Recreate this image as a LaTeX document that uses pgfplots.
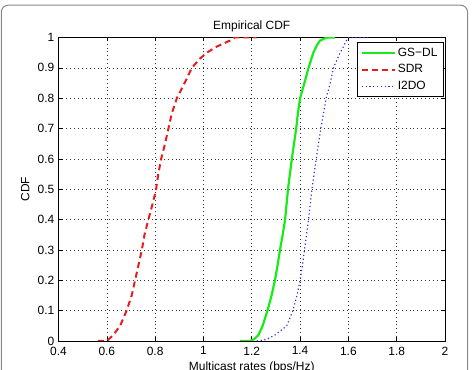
\documentclass[border=0pt]{standalone}
\usepackage{fontspec}
\setmainfont{Liberation Sans}
\usepackage{pgfplots}
\pgfplotsset{compat=1.18}

\definecolor{gsdl}{RGB}{25,235,25}
\definecolor{sdr}{RGB}{232,28,28}
\definecolor{itdo}{RGB}{50,50,215}
\definecolor{framegray}{RGB}{135,135,135}

\begin{document}
\fontsize{12}{14.4}\selectfont
\begin{tikzpicture}
\useasboundingbox (0,0) rectangle (472bp,370bp);
\draw[framegray, line width=1bp, rounded corners=7bp] (1.3bp,-20bp) rectangle (467.6bp,364.8bp);
\begin{axis}[
  at={(58.5bp,29bp)}, anchor=south west,
  scale only axis, width=386.5bp, height=303.5bp,
  xmin=0.4, xmax=2, ymin=0, ymax=1,
  xtick={0.4,0.6,0.8,1,1.2,1.4,1.6,1.8,2},
  ytick={0,0.1,0.2,0.3,0.4,0.5,0.6,0.7,0.8,0.9,1},
  /pgf/number format/assume math mode=true,
  tick label style={font=\fontsize{12}{14.4}\selectfont},
  xticklabel style={yshift=-1.5bp},
  label style={font=\fontsize{12}{14.4}\selectfont},
  xlabel style={yshift=1bp},
  title style={font=\fontsize{12}{14.4}\selectfont, yshift=-4.5bp},
  title={Empirical CDF},
  xlabel={Multicast rates (bps/Hz)},
  ylabel={CDF},
  grid=major,
  grid style={dash pattern=on 0.9bp off 3bp, black!80, line width=0.55bp},
  tick align=inside,
  major tick length=4bp,
  tick style={black, line width=0.6bp},
  axis line style={black, line width=0.8bp},
  legend style={at={(axis cs:1.993,0.985)}, anchor=north east,
    draw=black, line width=0.8bp, fill=white,
    font=\fontsize{12}{14.4}\selectfont,
    inner xsep=3.5bp, inner ysep=3.5bp, row sep=2.5bp},
  legend cell align=left,
  legend image code/.code={\draw[#1] (0bp,0bp) -- (33bp,0bp);},
]
% GS-DL
\addplot[gsdl, line width=2.2bp] coordinates {
  (1.152,0) (1.193,0) (1.210,0.006) (1.228,0.02) (1.245,0.05) (1.265,0.1)
  (1.282,0.15) (1.296,0.2) (1.307,0.25) (1.317,0.3) (1.328,0.35) (1.338,0.4)
  (1.344,0.45) (1.350,0.5) (1.358,0.55) (1.366,0.6) (1.375,0.65) (1.384,0.7)
  (1.391,0.75) (1.400,0.8) (1.418,0.85) (1.435,0.9) (1.455,0.95) (1.470,0.975)
  (1.483,0.99) (1.505,0.998) (1.515,1) (1.545,1)
};
\addlegendentry{GS−DL}
% SDR
\addplot[sdr, line width=2bp, dash pattern=on 6bp off 4bp] coordinates {
  (0.563,0) (0.600,0) (0.627,0.02) (0.655,0.05) (0.682,0.1) (0.703,0.15)
  (0.717,0.2) (0.731,0.25) (0.745,0.3) (0.756,0.35) (0.772,0.4) (0.789,0.45)
  (0.804,0.5) (0.813,0.55) (0.825,0.6) (0.841,0.65) (0.855,0.7) (0.869,0.75)
  (0.890,0.8) (0.922,0.85) (0.952,0.9) (0.985,0.93) (1.014,0.95) (1.055,0.97)
  (1.110,0.99) (1.130,1) (1.220,1)
};
\addlegendentry{SDR}
% I2DO
\addplot[itdo, line width=1.2bp, dash pattern=on 1.2bp off 2.6bp] coordinates {
  (1.221,0) (1.260,0.005) (1.297,0.02) (1.345,0.05) (1.370,0.1) (1.387,0.15)
  (1.400,0.2) (1.410,0.25) (1.418,0.3) (1.427,0.35) (1.435,0.4) (1.442,0.45)
  (1.449,0.5) (1.458,0.55) (1.467,0.6) (1.476,0.65) (1.486,0.7) (1.497,0.75)
  (1.508,0.8) (1.525,0.85) (1.538,0.9) (1.566,0.95) (1.580,0.97) (1.592,0.99)
  (1.600,1) (1.690,1)
};
\addlegendentry{I2DO}
\end{axis}
\end{tikzpicture}
\end{document}
